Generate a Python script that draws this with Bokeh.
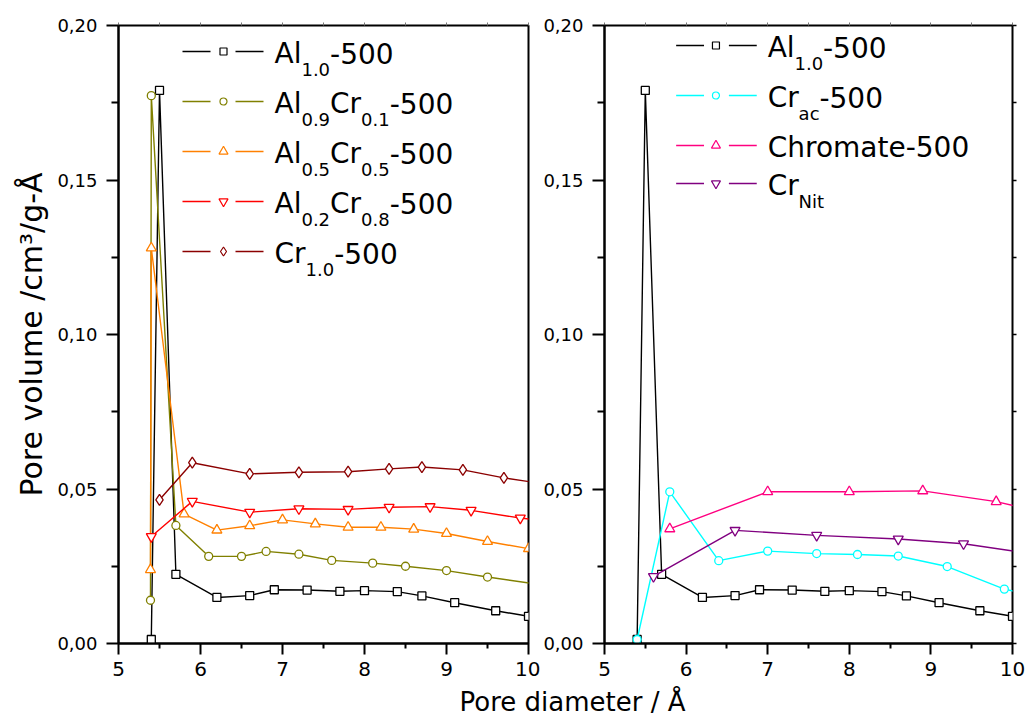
from bokeh.plotting import figure
from bokeh.models import (FixedTicker, LinearAxis, Range1d, Label, CustomJSTickFormatter)
from bokeh.layouts import row, column
from bokeh.embed import file_html
from bokeh.resources import INLINE

# ---------------- data ----------------
al10_x = [5.40, 5.50, 5.70, 6.20, 6.60, 6.90, 7.30, 7.70, 8.00, 8.40, 8.70, 9.10, 9.60, 10.00]
al10_y = [0.0013, 0.1790, 0.0224, 0.0149, 0.0155, 0.0174, 0.0173, 0.0169, 0.0171, 0.0168,
          0.0154, 0.0132, 0.0106, 0.0088]

al09_x = [5.39, 5.40, 5.70, 6.10, 6.50, 6.80, 7.20, 7.60, 8.10, 8.50, 9.00, 9.50, 10.10]
al09_y = [0.0140, 0.1773, 0.0382, 0.0282, 0.0282, 0.0298, 0.0289, 0.0269, 0.0260, 0.0250,
          0.0236, 0.0215, 0.0192]

al05_x = [5.39, 5.40, 5.80, 6.20, 6.60, 7.00, 7.40, 7.80, 8.20, 8.60, 9.00, 9.50, 10.00]
al05_y = [0.0239, 0.1280, 0.0419, 0.0367, 0.0381, 0.0400, 0.0387, 0.0376, 0.0376, 0.0370,
          0.0356, 0.0330, 0.0307]

al02_x = [5.40, 5.90, 6.60, 7.20, 7.80, 8.30, 8.80, 9.30, 9.90, 10.40]
al02_y = [0.0346, 0.0460, 0.0425, 0.0436, 0.0434, 0.0441, 0.0443, 0.0431, 0.0406, 0.0392]

cr10_x = [5.50, 5.90, 6.60, 7.20, 7.80, 8.30, 8.70, 9.20, 9.70, 10.20]
cr10_y = [0.0465, 0.0585, 0.0549, 0.0554, 0.0556, 0.0565, 0.0571, 0.0562, 0.0536, 0.0516]

crac_x = [5.40, 5.80, 6.40, 7.00, 7.60, 8.10, 8.60, 9.20, 9.90, 10.40]
crac_y = [0.0013, 0.0491, 0.0268, 0.0299, 0.0291, 0.0288, 0.0283, 0.0249, 0.0176, 0.0148]

chrom_x = [5.80, 7.00, 8.00, 8.90, 9.80, 10.60]
chrom_y = [0.0371, 0.0491, 0.0491, 0.0494, 0.0459, 0.0412]

crnit_x = [5.60, 6.60, 7.60, 8.60, 9.40, 10.40]
crnit_y = [0.0217, 0.0366, 0.0350, 0.0338, 0.0323, 0.0284]

x_major = [5, 6, 7, 8, 9, 10]
x_minor = [5.5, 6.5, 7.5, 8.5, 9.5]
y_major = [0.0, 0.05, 0.10, 0.15, 0.20]
y_minor = [0.025, 0.075, 0.125, 0.175]

left_labels = [
    [("Al", 0), ("1.0", 1), ("-500", 0)],
    [("Al", 0), ("0.9", 1), ("Cr", 0), ("0.1", 1), ("-500", 0)],
    [("Al", 0), ("0.5", 1), ("Cr", 0), ("0.5", 1), ("-500", 0)],
    [("Al", 0), ("0.2", 1), ("Cr", 0), ("0.8", 1), ("-500", 0)],
    [("Cr", 0), ("1.0", 1), ("-500", 0)],
]
right_labels = [
    [("Al", 0), ("1.0", 1), ("-500", 0)],
    [("Cr", 0), ("ac", 1), ("-500", 0)],
    [("Chromate-500", 0)],
    [("Cr", 0), ("Nit", 1)],
]

FONT = "DejaVu Sans"
FRAME_W, FRAME_H = 410, 618
TOP, BOTTOM = 25, 42
PANEL_H = TOP + FRAME_H + BOTTOM

# DejaVu Sans advance widths (em)
ADV = {'A': 0.684, 'l': 0.278, 'C': 0.698, 'r': 0.411, 'h': 0.634, 'o': 0.612,
       'm': 0.974, 'a': 0.613, 't': 0.392, 'e': 0.615, '-': 0.361, '.': 0.318,
       'c': 0.550, 'N': 0.748, 'i': 0.278}
CAP_MID = 0.365  # half cap height (em), used to centre text on its capitals

BLANK = CustomJSTickFormatter(code="return '';")


def text_w(s, size):
    return sum(ADV.get(ch, 0.636) for ch in s) * size


def make_panel(min_left, min_right, right_ticks):
    p = figure(width=min_left + FRAME_W + min_right, height=PANEL_H,
               x_range=Range1d(5, 10), y_range=Range1d(0, 0.2),
               output_backend="svg", toolbar_location=None, title=None,
               min_border_left=min_left, min_border_right=min_right,
               min_border_top=TOP, min_border_bottom=BOTTOM,
               background_fill_color="white", border_fill_color="white")
    p.grid.visible = False
    p.outline_line_color = "black"
    p.outline_line_width = 2

    xa = p.xaxis[0]
    xa.ticker = FixedTicker(ticks=x_major, minor_ticks=x_minor)
    xa.axis_line_width = 2
    xa.major_tick_line_width = 2
    xa.minor_tick_line_width = 2
    xa.major_tick_in = 0
    xa.major_tick_out = 11
    xa.minor_tick_in = 0
    xa.minor_tick_out = 5
    xa.major_label_standoff = 7
    xa.major_label_text_font = FONT
    xa.major_label_text_font_size = "20px"
    xa.major_label_text_color = "black"

    ya = p.yaxis[0]
    ya.ticker = FixedTicker(ticks=y_major, minor_ticks=y_minor)
    ya.formatter = CustomJSTickFormatter(code="return tick.toFixed(2).replace('.', ',');")
    ya.axis_line_width = 2
    ya.major_tick_line_width = 2
    ya.minor_tick_line_width = 2
    ya.major_tick_in = 0
    ya.major_tick_out = 12
    ya.minor_tick_in = 0
    ya.minor_tick_out = 7
    ya.major_label_standoff = 9
    ya.major_label_text_font = FONT
    ya.major_label_text_font_size = "18px"
    ya.major_label_text_color = "black"

    top = LinearAxis(ticker=FixedTicker(ticks=x_major, minor_ticks=x_minor),
                     formatter=BLANK,
                     major_tick_in=0, major_tick_out=3, minor_tick_in=0, minor_tick_out=3,
                     major_tick_line_color="#777777", minor_tick_line_color="#777777",
                     axis_line_color=None, major_label_standoff=0,
                     major_label_text_font_size="8px")
    p.add_layout(top, "above")

    if right_ticks:
        ra = LinearAxis(ticker=FixedTicker(ticks=y_major, minor_ticks=y_minor),
                        formatter=BLANK,
                        major_tick_in=0, major_tick_out=4, minor_tick_in=0, minor_tick_out=4,
                        major_tick_line_width=1.5, minor_tick_line_width=1.5,
                        axis_line_color=None, major_label_standoff=0,
                        major_label_text_font_size="8px")
        p.add_layout(ra, "right")
    return p


def add_series(p, xs, ys, color, marker, size):
    p.line(xs, ys, line_color=color, line_width=1.4)
    p.scatter(xs, ys, marker=marker, size=size, line_color=color,
              fill_color="white", line_width=1.3)


def add_legend(p, entries, labels, frame_left_px, glyph_px, text_x_px, baselines_px):
    """Hand-made legend: line - marker - line sample, text with subscripts."""
    def to_x(px):
        return 5 + (px - frame_left_px) * 5.0 / FRAME_W

    def to_y(py):
        return (TOP + FRAME_H - py) * 0.2 / FRAME_H

    a, b, m, c, d = glyph_px
    for (color, marker, msize), frags, base in zip(entries, labels, baselines_px):
        yc = to_y(base - 12)
        p.segment(x0=[to_x(a), to_x(c)], y0=[yc, yc], x1=[to_x(b), to_x(d)], y1=[yc, yc],
                  line_color=color, line_width=1.4)
        p.scatter([to_x(m)], [yc], marker=marker, size=msize, line_color=color,
                  fill_color="white", line_width=1.2)
        xp = text_x_px
        for txt, sub in frags:
            size = 18 if sub else 28
            bl = base + 13 if sub else base
            p.add_layout(Label(x=to_x(xp), y=to_y(bl - CAP_MID * size), text=txt,
                               text_font=FONT, text_font_size=f"{size}px",
                               text_color="black", text_align="left",
                               text_baseline="middle"))
            xp += text_w(txt, size)


# ---------------- left panel ----------------
pl = make_panel(118, 12, False)
pl.yaxis[0].axis_label = "Pore volume /cm³/g-Å"
pl.yaxis[0].axis_label_text_font = FONT
pl.yaxis[0].axis_label_text_font_size = "30px"
pl.yaxis[0].axis_label_text_font_style = "normal"
pl.yaxis[0].axis_label_text_color = "black"
pl.yaxis[0].axis_label_standoff = 5

left_series = [
    (al10_x, al10_y, "black", "square", 8),
    (al09_x, al09_y, "#808000", "circle", 8),
    (al05_x, al05_y, "#FF8000", "triangle", 10),
    (al02_x, al02_y, "#FF0000", "inverted_triangle", 10),
    (cr10_x, cr10_y, "#8B0000", "diamond", 11),
]
for xs, ys, col, mk, sz in left_series:
    add_series(pl, xs, ys, col, mk, sz)
add_legend(pl, [(c, mk, 7 if mk in ("square", "circle") else 9) for _, _, c, mk, _ in left_series],
           left_labels, 118, (182, 210, 223, 235, 263), 274, [63, 113, 163, 213, 263])

# ---------------- right panel ----------------
pr = make_panel(62, 13, True)
right_series = [
    (al10_x, al10_y, "black", "square", 8),
    (crac_x, crac_y, "#00FFFF", "circle", 8),
    (chrom_x, chrom_y, "#FF0080", "triangle", 10),
    (crnit_x, crnit_y, "#800080", "inverted_triangle", 10),
]
for xs, ys, col, mk, sz in right_series:
    add_series(pr, xs, ys, col, mk, sz)
add_legend(pr, [(c, mk, 7 if mk in ("square", "circle") else 9) for _, _, c, mk, _ in right_series],
           right_labels, 602, (674, 702, 714, 727, 755), 766, [57, 107, 157, 195])

# ---------------- shared x label ----------------
PB_H = 717 - PANEL_H
pb = figure(width=1025, height=PB_H, title=None,
            x_range=Range1d(0, 1025), y_range=Range1d(0, PB_H),
            output_backend="svg", toolbar_location=None, min_border=0,
            x_axis_type=None, y_axis_type=None, outline_line_color=None)
pb.grid.visible = False
pb.add_layout(Label(x=572, y=15.5, text="Pore diameter / Å",
                    text_font=FONT, text_font_size="26px", text_color="black",
                    text_align="center", text_baseline="middle"))

layout = column(row(pl, pr, spacing=0), pb, spacing=0)
open("out.html", "w").write(file_html(layout, INLINE))
